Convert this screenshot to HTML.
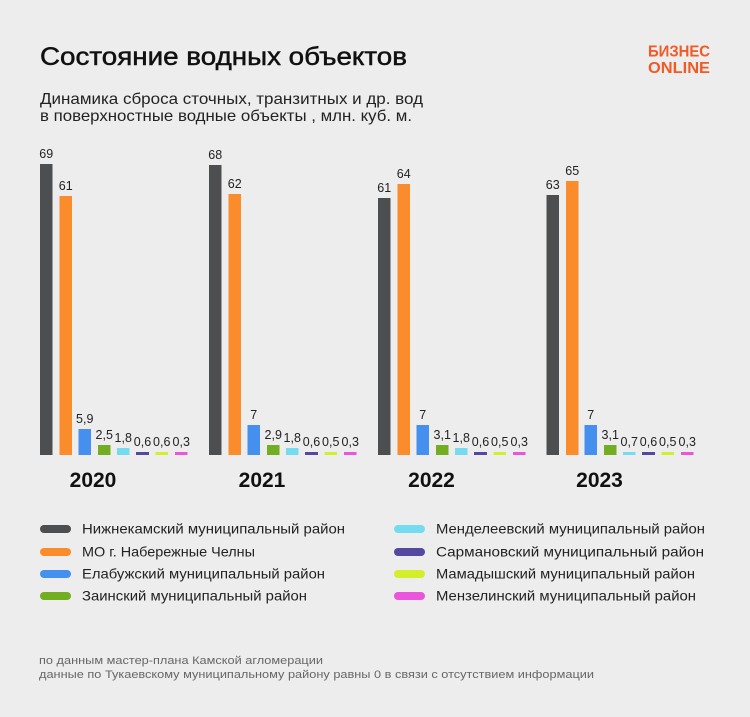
<!DOCTYPE html>
<html><head><meta charset="utf-8"><style>
html,body{margin:0;padding:0;background:#ededed;}
svg{display:block;}
text{font-family:"Liberation Sans",Arial,sans-serif;}
</style></head><body>
<svg width="750" height="717" viewBox="0 0 750 717" xmlns="http://www.w3.org/2000/svg">
<rect width="750" height="717" fill="#ededed"/>
<text x="40" y="65" font-size="25" fill="#111" stroke="#111" stroke-width="0.5" textLength="367" lengthAdjust="spacingAndGlyphs">Состояние водных объектов</text>
<text x="40" y="104" font-size="16" fill="#222" textLength="383" lengthAdjust="spacingAndGlyphs">Динамика сброса сточных, транзитных и др. вод</text>
<text x="40" y="121" font-size="16" fill="#222" textLength="372" lengthAdjust="spacingAndGlyphs">в поверхностные водные объекты , млн. куб. м.</text>
<g fill="#f15a24" font-weight="bold" font-size="16">
<text x="648" y="56.5" textLength="62" lengthAdjust="spacingAndGlyphs">БИЗНЕС</text>
<text x="648" y="73" textLength="62" lengthAdjust="spacingAndGlyphs">ONLINE</text>
</g>
<g id="bars"></g>
<g font-size="21" font-weight="bold" fill="#111" text-anchor="middle">
<text x="93" y="487">2020</text>
<text x="262" y="487">2021</text>
<text x="431.5" y="487">2022</text>
<text x="599.5" y="487">2023</text>
</g>
<g>
<rect x="40" y="525" width="31" height="8" rx="4" fill="#4d4e50"/>
<rect x="40" y="548" width="31" height="8" rx="4" fill="#fb8c2c"/>
<rect x="40" y="570" width="31" height="8" rx="4" fill="#4590ee"/>
<rect x="40" y="592" width="31" height="8" rx="4" fill="#72ad22"/>
<rect x="394" y="525" width="31" height="8" rx="4" fill="#75dcf0"/>
<rect x="394" y="548" width="31" height="8" rx="4" fill="#5448a0"/>
<rect x="394" y="570" width="31" height="8" rx="4" fill="#d3ee2b"/>
<rect x="394" y="592" width="31" height="8" rx="4" fill="#ea55db"/>
</g>
<g font-size="14" fill="#222">
<text x="82" y="533.5" textLength="263" lengthAdjust="spacingAndGlyphs">Нижнекамский муниципальный район</text>
<text x="82" y="556.5" textLength="173" lengthAdjust="spacingAndGlyphs">МО г. Набережные Челны</text>
<text x="82" y="578.5" textLength="243" lengthAdjust="spacingAndGlyphs">Елабужский муниципальный район</text>
<text x="82" y="600.5" textLength="225" lengthAdjust="spacingAndGlyphs">Заинский муниципальный район</text>
<text x="436" y="533.5" textLength="269" lengthAdjust="spacingAndGlyphs">Менделеевский муниципальный район</text>
<text x="436" y="556.5" textLength="268" lengthAdjust="spacingAndGlyphs">Сармановский муниципальный район</text>
<text x="436" y="578.5" textLength="259" lengthAdjust="spacingAndGlyphs">Мамадышский муниципальный район</text>
<text x="436" y="600.5" textLength="260" lengthAdjust="spacingAndGlyphs">Мензелинский муниципальный район</text>
</g>
<g font-size="11" fill="#666">
<text x="39" y="664" textLength="284" lengthAdjust="spacingAndGlyphs">по данным мастер-плана Камской агломерации</text>
<text x="39" y="678" textLength="555" lengthAdjust="spacingAndGlyphs">данные по Тукаевскому муниципальному району равны 0 в связи с отсутствием информации</text>
</g>
<g font-size="12.5" fill="#222" text-anchor="middle">
<!-- 2020 -->
<rect x="40" y="164" width="12.5" height="291" fill="#4d4e50"/><text x="46.25" y="158">69</text>
<rect x="59.5" y="196" width="12.5" height="259" fill="#fb8c2c"/><text x="65.75" y="190">61</text>
<rect x="78.5" y="429" width="12.5" height="26" fill="#4590ee"/><text x="84.75" y="423">5,9</text>
<rect x="98" y="445" width="12.5" height="10" fill="#72ad22"/><text x="104.25" y="439">2,5</text>
<rect x="117" y="448" width="12.5" height="7" fill="#75dcf0"/><text x="123.25" y="442">1,8</text>
<rect x="136" y="452" width="13" height="3" fill="#5448a0"/><text x="142.5" y="446">0,6</text>
<rect x="155.5" y="452" width="12.5" height="3" fill="#d3ee2b"/><text x="161.75" y="446">0,6</text>
<rect x="175" y="452" width="12.5" height="3" fill="#ea55db"/><text x="181.25" y="446">0,3</text>
<!-- 2021 -->
<rect x="209" y="165" width="12.5" height="290" fill="#4d4e50"/><text x="215.25" y="159">68</text>
<rect x="228.5" y="194" width="12.5" height="261" fill="#fb8c2c"/><text x="234.75" y="188">62</text>
<rect x="247.5" y="425" width="12.5" height="30" fill="#4590ee"/><text x="253.75" y="419">7</text>
<rect x="267" y="445" width="12.5" height="10" fill="#72ad22"/><text x="273.25" y="439">2,9</text>
<rect x="286" y="448" width="12.5" height="7" fill="#75dcf0"/><text x="292.25" y="442">1,8</text>
<rect x="305" y="452" width="13" height="3" fill="#5448a0"/><text x="311.5" y="446">0,6</text>
<rect x="324.5" y="452" width="12.5" height="3" fill="#d3ee2b"/><text x="330.75" y="446">0,5</text>
<rect x="344" y="452" width="12.5" height="3" fill="#ea55db"/><text x="350.25" y="446">0,3</text>
<!-- 2022 -->
<rect x="378" y="198" width="12.5" height="257" fill="#4d4e50"/><text x="384.25" y="192">61</text>
<rect x="397.5" y="184" width="12.5" height="271" fill="#fb8c2c"/><text x="403.75" y="178">64</text>
<rect x="416.5" y="425" width="12.5" height="30" fill="#4590ee"/><text x="422.75" y="419">7</text>
<rect x="436" y="445" width="12.5" height="10" fill="#72ad22"/><text x="442.25" y="439">3,1</text>
<rect x="455" y="448" width="12.5" height="7" fill="#75dcf0"/><text x="461.25" y="442">1,8</text>
<rect x="474" y="452" width="13" height="3" fill="#5448a0"/><text x="480.5" y="446">0,6</text>
<rect x="493.5" y="452" width="12.5" height="3" fill="#d3ee2b"/><text x="499.75" y="446">0,5</text>
<rect x="513" y="452" width="12.5" height="3" fill="#ea55db"/><text x="519.25" y="446">0,3</text>
<!-- 2023 -->
<rect x="546.5" y="195" width="12.5" height="260" fill="#4d4e50"/><text x="552.75" y="189">63</text>
<rect x="566" y="181" width="12.5" height="274" fill="#fb8c2c"/><text x="572.25" y="175">65</text>
<rect x="584.5" y="425" width="12.5" height="30" fill="#4590ee"/><text x="590.75" y="419">7</text>
<rect x="604" y="445" width="12.5" height="10" fill="#72ad22"/><text x="610.25" y="439">3,1</text>
<rect x="623" y="452" width="12.5" height="3" fill="#75dcf0"/><text x="629.25" y="446">0,7</text>
<rect x="642" y="452" width="13" height="3" fill="#5448a0"/><text x="648.5" y="446">0,6</text>
<rect x="661.5" y="452" width="12.5" height="3" fill="#d3ee2b"/><text x="667.75" y="446">0,5</text>
<rect x="681" y="452" width="12.5" height="3" fill="#ea55db"/><text x="687.25" y="446">0,3</text>
</g>
</svg>
</body></html>
